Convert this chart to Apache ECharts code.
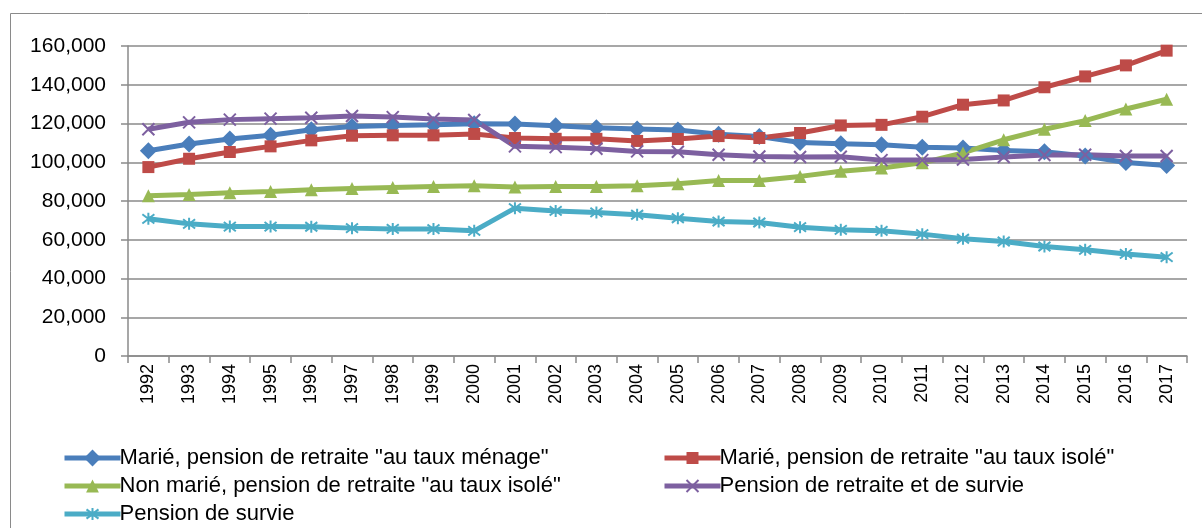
<!DOCTYPE html>
<html>
<head>
<meta charset="utf-8">
<script src="https://cdn.jsdelivr.net/npm/echarts@6/dist/echarts.min.js"></script>
<style>
  html, body { margin: 0; padding: 0; background: #fff; }
  #chart { width: 1202px; height: 528px; }
</style>
</head>
<body>
<div id="chart"></div>
<script>
// Pension amounts per household type, 1992-2017
const years = ['1992','1993','1994','1995','1996','1997','1998','1999','2000','2001','2002','2003','2004',
               '2005','2006','2007','2008','2009','2010','2011','2012','2013','2014','2015','2016','2017'];

const marieMenage = [105900,109400,112000,113900,116800,118500,119000,119400,119900,119800,118900,117800,117200,
                     116600,114400,113300,110200,109500,109000,107800,107400,106100,105400,103200,99900,98300];
const marieIsole = [97500,101800,105300,108200,111300,113700,113900,113900,114600,112500,112100,112100,111000,
                    112000,113500,112500,115100,119000,119300,123500,129700,131900,138700,144300,150000,157600];
const nonMarieIsole = [82700,83400,84200,84900,85800,86500,87000,87500,87900,87200,87500,87500,87900,
                       88900,90600,90600,92700,95400,97000,99700,104800,111600,117000,121500,127500,132500];
const retraiteSurvie = [117000,120600,122000,122500,123000,123900,123300,122300,121800,108200,107800,107000,105600,
                        105400,103900,103000,102700,102800,101100,101100,101400,102700,103700,103900,103200,103200];
const survie = [70800,68200,66800,66800,66700,66000,65600,65500,64600,76300,74900,74100,72900,
                71100,69400,68900,66500,65100,64600,62900,60500,59100,56500,54800,52700,51000];

const yTicks = { min: 0, max: 160000, interval: 20000 };

const names = [
  'Marié, pension de retraite "au taux ménage"',
  'Marié, pension de retraite "au taux isolé"',
  'Non marié, pension de retraite "au taux isolé"',
  'Pension de retraite et de survie',
  'Pension de survie'
];

const FONT = '"Liberation Sans", Arial, sans-serif';
const xMark = 'path://M0,0L10,10M10,0L0,10';
const starMark = 'path://M0,0L10,10M10,0L0,10M5,-1.5L5,11.5';

function lineSeries(name, data, color, symbol, size, stroked) {
  return {
    name: name,
    type: 'line',
    data: data,
    symbol: symbol,
    symbolSize: size,
    showAllSymbol: true,
    lineStyle: { color: color, width: 5 },
    itemStyle: stroked
      ? { color: color, borderColor: color, borderWidth: 2 }
      : { color: color, borderWidth: 0 },
    emphasis: { disabled: true },
    animation: false,
    z: 3
  };
}

const chart = echarts.init(document.getElementById('chart'), null, { renderer: 'canvas' });

// one legend block per entry, laid out in two columns
function legendAt(name, left, centerY, iconH) {
  const h = Math.max(iconH, 22);
  return {
    data: [name],
    left: left,
    top: centerY - h / 2,
    padding: 0,
    itemWidth: 56,
    itemHeight: iconH,
    itemGap: 0,
    selectedMode: false,
    lineStyle: { width: 5 },
    textStyle: { fontFamily: FONT, fontSize: 22, lineHeight: 22, color: '#000', padding: [0, 0, 0, -6] }
  };
}

chart.setOption({
  backgroundColor: '#fff',
  animation: false,
  graphic: [{
    type: 'rect',
    shape: { x: 10.5, y: 13.5, width: 1400, height: 700 },
    style: { fill: 'none', stroke: '#8a8a8a', lineWidth: 1 },
    silent: true
  }],
  grid: { left: 128, right: 15, top: 46, bottom: 172 },
  legend: [
    legendAt(names[0], 62, 458, 21),
    legendAt(names[1], 662, 458, 15),
    legendAt(names[2], 62, 486, 16),
    legendAt(names[3], 662, 486, 15),
    legendAt(names[4], 62, 514, 15)
  ],
  xAxis: {
    type: 'category',
    data: years,
    boundaryGap: true,
    axisLine: { lineStyle: { color: '#8a8a8a', width: 1.5 } },
    axisTick: { show: true, interval: 0, length: 7, lineStyle: { color: '#8a8a8a', width: 1.5 } },
    axisLabel: { interval: 0, rotate: 90, margin: 8, fontFamily: FONT, fontSize: 18, color: '#000' },
    splitLine: { show: false }
  },
  yAxis: {
    type: 'value',
    min: yTicks.min,
    max: yTicks.max,
    interval: yTicks.interval,
    axisLine: { show: true, lineStyle: { color: '#8a8a8a', width: 1.5 } },
    axisTick: { show: true, length: 7, lineStyle: { color: '#8a8a8a', width: 1.5 } },
    axisLabel: {
      margin: 22, fontFamily: FONT, fontSize: 21, color: '#000',
      formatter: v => v === 0 ? '0' : v.toLocaleString('en-US')
    },
    splitLine: { lineStyle: { color: '#8a8a8a', width: 1.5 } }
  },
  series: [
    lineSeries(names[0], marieMenage, '#4A7EBB', 'diamond', 17, false),
    lineSeries(names[1], marieIsole, '#BE4B48', 'rect', 12, false),
    lineSeries(names[2], nonMarieIsole, '#98B954', 'triangle', 13, false),
    lineSeries(names[3], retraiteSurvie, '#7D60A0', xMark, 12, true),
    lineSeries(names[4], survie, '#4BACC6', starMark, 12, true)
  ]
});
</script>
</body>
</html>
